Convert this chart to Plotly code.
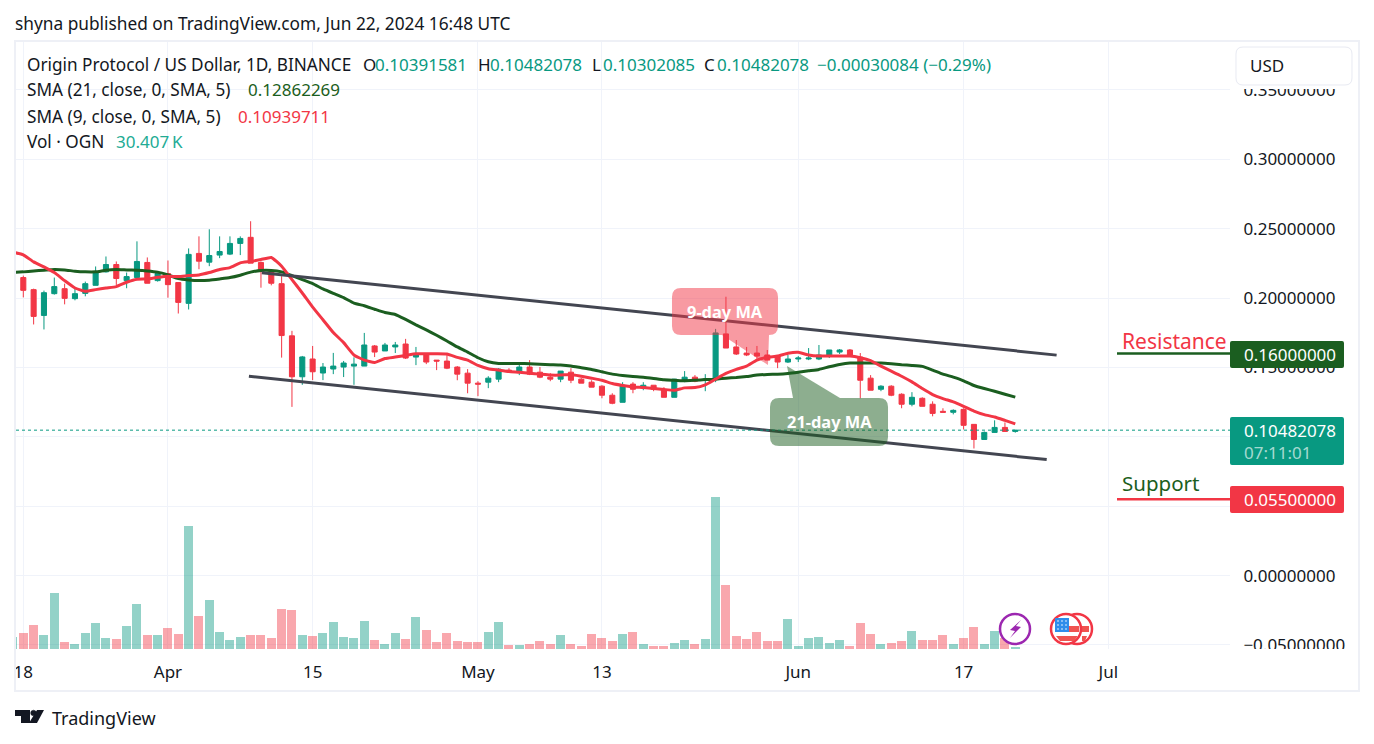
import pandas as pd
import plotly.graph_objects as go

# ---------- data ----------
dates = pd.date_range("2024-03-17", "2024-06-22", freq="D")

opens = [.2083,.2148,.2061,.1875,.2032,.2068,.1996,.2034,.2092,.2189,.2242,.2126,.2148,.2257,.2126,
         .2177,.2112,.1962,.2322,.2259,.2310,.2317,.2394,.2438,.2257,.2191,.2104,.1728,.1433,.1561,.1460,.1489,.1503,.1510,.1510,.1655,.1619,.1648,.1669,.1575,.1597,.1553,.1546,.1503,.1459,
         .1387,.1394,.1416,.1481,.1466,.1503,.1466,.1430,.1416,.1466,.1416,.1394,.1365,.1300,.1249,.1380,.1358,.1372,.1343,.1285,.1401,.1430,.1408,.1416,.1742,.1648,.1604,.1604,.1590,.1582,.1539,
         .1561,.1561,.1561,.1582,.1611,.1626,.1575,.1423,.1343,.1365,.1307,.1235,.1278,.1235,.1184,.1177,.1198,.1090,.0981,.1032,.1068,.10391581]
highs = [.2141,.2162,.2068,.2054,.2148,.2104,.2073,.2119,.2228,.2300,.2264,.2184,.2409,.2293,.2191,
         .2271,.2112,.2358,.2445,.2496,.2445,.2445,.2445,.2554,.2264,.2206,.2158,.1764,.1583,.1655,.1532,.1605,.1547,.1573,.1749,.1662,.1677,.1684,.1706,.1648,.1597,.1553,.1590,.1510,.1488,
         .1401,.1437,.1495,.1495,.1539,.1553,.1503,.1459,.1474,.1495,.1423,.1408,.1372,.1314,.1394,.1394,.1394,.1372,.1358,.1416,.1474,.1445,.1452,.1778,.2010,.1698,.1648,.1655,.1626,.1590,.1590,
         .1582,.1640,.1662,.1626,.1633,.1633,.1604,.1445,.1372,.1372,.1314,.1322,.1285,.1256,.1206,.1198,.1206,.1090,.1039,.1119,.1104,.10482078]
lows = [.2083,.2005,.1810,.1774,.2025,.1955,.1984,.2013,.2092,.2184,.2095,.2071,.2133,.2107,.2119,
        .2003,.1889,.1918,.2208,.2230,.2288,.2310,.2310,.2252,.2075,.2092,.1571,.1216,.1375,.1409,.1409,.1452,.1431,.1375,.1510,.1575,.1619,.1604,.1561,.1517,.1524,.1481,.1488,.1408,.1314,
        .1293,.1351,.1394,.1470,.1445,.1445,.1423,.1401,.1394,.1387,.1387,.1358,.1278,.1235,.1249,.1314,.1336,.1329,.1285,.1285,.1394,.1394,.1329,.1394,.1640,.1590,.1582,.1553,.1553,.1495,.1532,
        .1539,.1553,.1553,.1568,.1597,.1582,.1278,.1336,.1329,.1293,.1206,.1220,.1220,.1148,.1177,.1162,.1053,.0916,.0981,.1032,.1039,.10302085]
closes = [.2141,.2056,.1868,.2039,.2083,.1998,.2032,.2104,.2182,.2242,.2141,.2155,.2264,.2107,.2177,
          .2097,.1969,.2315,.2266,.2307,.2336,.2394,.2430,.2252,.2191,.2107,.1730,.1433,.1576,.1469,.1503,.1510,.1532,.1524,.1662,.1611,.1662,.1662,.1568,.1597,.1539,.1546,.1495,.1452,.1387,
          .1380,.1423,.1488,.1475,.1503,.1452,.1430,.1416,.1474,.1408,.1387,.1358,.1300,.1242,.1372,.1343,.1372,.1343,.1285,.1416,.1430,.1401,.1416,.1749,.1640,.1597,.1590,.1582,.1553,.1539,.1561,
          .1568,.1568,.1590,.1626,.1626,.1582,.1408,.1336,.1365,.1300,.1235,.1285,.1220,.1169,.1177,.1191,.1083,.0981,.1032,.1068,.1039,.10482078]
volumes_k = [158,211,317,185,739,92,66,211,343,145,132,304,594,185,185,
             277,198,1624,436,647,224,119,158,185,185,145,528,515,185,172,211,356,158,145,370,119,66,211,132,422,251,92,211,106,92,
             92,224,356,53,53,66,106,66,185,66,40,198,145,106,198,224,66,40,40,79,119,66,132,2006,845,172,132,224,106,106,396,
             40,145,158,79,119,40,343,198,66,79,106,238,119,119,185,66,145,290,66,238,145,30.4]
sma9 = [.2331,.2312,.2261,.2225,.2184,.2126,.2073,.2049,.2061,.2073,.2083,.2114,.2136,.2138,.2150,
        .2158,.2155,.2162,.2167,.2184,.2206,.2220,.2254,.2264,.2278,.2293,.2230,.2133,.2037,.1935,.1844,.1752,.1679,.1590,.1553,.1536,.1565,.1575,.1587,.1599,.1599,.1599,.1597,.1573,.1553,
        .1515,.1491,.1481,.1471,.1466,.1459,.1452,.1445,.1445,.1450,.1437,.1423,.1408,.1384,.1370,.1360,.1355,.1348,.1341,.1336,.1353,.1355,.1375,.1416,.1457,.1486,.1510,.1553,.1573,.1582,.1602,
        .1609,.1590,.1582,.1582,.1582,.1582,.1570,.1549,.1510,.1474,.1437,.1396,.1348,.1305,.1276,.1252,.1220,.1186,.1160,.1143,.1119,.10939711]
sma21 = [.2184,.2189,.2196,.2201,.2206,.2203,.2194,.2189,.2189,.2201,.2206,.2203,.2201,.2196,.2187,
         .2167,.2141,.2131,.2126,.2129,.2138,.2148,.2165,.2187,.2199,.2199,.2189,.2162,.2133,.2104,.2066,.2034,.2003,.1964,.1945,.1920,.1896,.1882,.1846,.1807,.1771,.1732,.1691,.1648,.1611,
         .1570,.1541,.1529,.1529,.1529,.1527,.1524,.1520,.1517,.1510,.1498,.1486,.1469,.1452,.1442,.1435,.1430,.1421,.1411,.1408,.1404,.1408,.1413,.1416,.1423,.1428,.1435,.1445,.1450,.1452,.1457,
         .1466,.1476,.1486,.1505,.1522,.1532,.1532,.1532,.1532,.1527,.1520,.1515,.1508,.1481,.1452,.1430,.1404,.1370,.1348,.1329,.1307,.12862269]

upper_dates = ["2024-04-10 02:00", "2024-06-26 00:00"]
upper_vals = [.2183, .1589]
lower_dates = ["2024-04-08 20:00", "2024-06-25 01:00"]
lower_vals = [.1437, .0836]

resistance = 0.16
support = 0.055
last_price = 0.10482078

price_ticks = [-0.05, 0, 0.05, 0.10, 0.15, 0.20, 0.25, 0.30, 0.35]
price_labels = ["\u22120.05000000", "0.00000000", "", "", "0.15000000", "0.20000000", "0.25000000", "0.30000000", "0.35000000"]
date_ticks = ["2024-03-18", "2024-04-01", "2024-04-15", "2024-05-01", "2024-05-13", "2024-06-01", "2024-06-17", "2024-07-01"]
date_labels = ["18", "Apr", "15", "May", "13", "Jun", "17", "Jul"]

# ---------- look ----------
TEAL, RED, GREEN, INK, GRID, FRAME = "#089981", "#F23645", "#1B5E20", "#131722", "#F0F3FA", "#EEF0F6"
FONT = "Noto Sans"
FS = 17
L, R, T, B = 16, 1230, 42, 649

def X(p):
    return (p - L) / (R - L)

def Y(p):
    return (B - p) / (B - T)

vol_colors = ["rgba(8,153,129,0.44)" if c >= o else "rgba(242,54,69,0.44)" for o, c in zip(opens, closes)]

fig = go.Figure()
fig.add_bar(x=dates, y=volumes_k, marker=dict(color=vol_colors, line_width=0), width=75000000, yaxis="y", hoverinfo="skip")
fig.add_candlestick(x=dates, open=opens, high=highs, low=lows, close=closes, yaxis="y2", whiskerwidth=0,
                    increasing=dict(line=dict(color=TEAL, width=1), fillcolor=TEAL),
                    decreasing=dict(line=dict(color=RED, width=1), fillcolor=RED), hoverinfo="skip")
fig.add_scatter(x=dates, y=sma21, yaxis="y2", mode="lines", line=dict(color=GREEN, width=3, shape="spline", smoothing=0.4), hoverinfo="skip")
fig.add_scatter(x=dates, y=sma9, yaxis="y2", mode="lines", line=dict(color=RED, width=3, shape="spline", smoothing=0.4), hoverinfo="skip")
fig.add_scatter(x=upper_dates, y=upper_vals, yaxis="y2", mode="lines", line=dict(color="#434651", width=3), hoverinfo="skip")
fig.add_scatter(x=lower_dates, y=lower_vals, yaxis="y2", mode="lines", line=dict(color="#434651", width=3), hoverinfo="skip")

shapes, notes = [], []

def poly(points, fill, line=None, width=0, close=True):
    d = "M " + " L ".join(f"{X(a):.5f} {Y(b):.5f}" for a, b in points) + (" Z" if close else "")
    shapes.append(dict(type="path", path=d, xref="paper", yref="paper", fillcolor=fill, layer="above",
                       line=dict(color=line or "rgba(0,0,0,0)", width=width)))

def round_rect(x0, y0, x1, y1, r, fill, line=None, width=0, tail=None):
    def P(a, b):
        return f"{X(a):.5f} {Y(b):.5f}"
    d = f"M {P(x0 + r, y0)} L {P(x1 - r, y0)} Q {P(x1, y0)} {P(x1, y0 + r)} L {P(x1, y1 - r)} Q {P(x1, y1)} {P(x1 - r, y1)} "
    if tail:
        d += " ".join("L " + P(a, b) for a, b in tail) + " "
    d += f"L {P(x0 + r, y1)} Q {P(x0, y1)} {P(x0, y1 - r)} L {P(x0, y0 + r)} Q {P(x0, y0)} {P(x0 + r, y0)} Z"
    shapes.append(dict(type="path", path=d, xref="paper", yref="paper", fillcolor=fill, layer="above",
                       line=dict(color=line or "rgba(0,0,0,0)", width=width)))

def circle(cx, cy, r, fill, line, width):
    shapes.append(dict(type="circle", xref="paper", yref="paper", x0=X(cx - r), x1=X(cx + r), y0=Y(cy + r), y1=Y(cy - r),
                       fillcolor=fill, line=dict(color=line, width=width), layer="above"))

def text(px, py, s, color=INK, size=FS, anchor="left", bold=False):
    notes.append(dict(x=X(px), y=Y(py), xref="paper", yref="paper", text=f"<b>{s}</b>" if bold else s, showarrow=False,
                      xanchor=anchor, yanchor="middle", align="left", borderpad=0, borderwidth=0,
                      font=dict(family=FONT, size=size, color=color)))

# the price axis is cut where the pane ends and under the USD button
poly([(1231, 649), (1358, 649), (1358, 690), (1231, 690)], "#FFFFFF")
poly([(1231, 42), (1358, 42), (1358, 89), (1231, 89)], "#FFFFFF")
# frame
shapes.append(dict(type="rect", xref="paper", yref="paper", x0=X(15), x1=X(1359), y0=Y(691), y1=Y(41),
                   line=dict(color=FRAME, width=2), fillcolor="rgba(0,0,0,0)", layer="above"))

# USD button
round_rect(1236, 47, 1352, 85, 7, "#FFFFFF", "#E8EAF2", 1)
text(1250, 65.5, "USD")

# price line
shapes.append(dict(type="line", xref="paper", yref="y2", x0=0, x1=1, y0=last_price, y1=last_price,
                   line=dict(color=TEAL, width=1, dash="dot"), layer="above"))
# support / resistance
shapes.append(dict(type="line", xref="paper", yref="y2", x0=X(1117), x1=X(1230), y0=resistance, y1=resistance,
                   line=dict(color=GREEN, width=2.5), layer="above"))
shapes.append(dict(type="line", xref="paper", yref="y2", x0=X(1117), x1=X(1230), y0=support, y1=support,
                   line=dict(color=RED, width=2.5), layer="above"))
round_rect(1230, 341, 1344, 368, 2, GREEN)
text(1244, 354, "0.16000000", "#FFFFFF")
round_rect(1230, 417, 1344, 465, 2, TEAL)
text(1244, 431, f"{last_price:.8f}", "#FFFFFF")
text(1244, 452, "07:11:01", "rgba(255,255,255,0.65)")
round_rect(1230, 486, 1344, 513, 2, RED)
text(1244, 499, "0.05500000", "#FFFFFF")
text(1122, 341, "Resistance", RED, 21)
text(1122, 483, "Support", GREEN, 20.5)

# callouts
round_rect(672, 288, 778, 335, 9, "rgba(242,54,69,0.5)", tail=[(768, 365), (722, 335)])
text(725, 311, "9-day MA", "#FFFFFF", 16.4, "center", True)
round_rect(770, 398, 888, 446, 9, "rgba(27,94,32,0.5)")
poly([(793, 398), (787, 366), (840, 398)], "rgba(27,94,32,0.5)")
text(829, 421, "21-day MA", "#FFFFFF", 16.4, "center", True)

# event icons
circle(1077, 629, 15, "#FFFFFF", RED, 2.5)
poly([(1082, 626), (1089, 626), (1089, 632), (1082, 632)], "#F05350")
poly([(1082, 636), (1087, 636), (1085, 641), (1082, 641)], "#F05350")
circle(1066, 629, 15, "#FFFFFF", RED, 2.5)
poly([(1069, 626), (1079, 626), (1079, 632), (1069, 632)], "#F05350")
poly([(1056, 636), (1078, 636), (1074, 641), (1060, 641)], "#F05350")
poly([(1055, 618), (1069, 618), (1069, 632), (1055, 632)], "#2F8DEB")
for dx in (1058, 1062, 1066):
    for dy in (621, 625, 629):
        circle(dx, dy, 0.8, "#FFFFFF", "#FFFFFF", 0)
circle(1015, 629, 15, "#FFFFFF", "#9C27B0", 2.5)
poly([(1021, 620), (1010, 630), (1015, 631), (1010, 638), (1021, 627), (1016, 626)], "#9C27B0")

# header texts
text(15, 23, "shyna published on TradingView.com, Jun 22, 2024 16:48 UTC", INK, 17.3)
text(27, 64, "Origin Protocol / US Dollar, 1D, BINANCE", INK, 17.2)
for px, s, c in [(363, "O", INK), (375, "0.10391581", TEAL), (478, "H", INK), (490, "0.10482078", TEAL),
                 (592, "L", INK), (603, "0.10302085", TEAL), (704, "C", INK), (717, "0.10482078", TEAL),
                 (817, "\u22120.00030084 (\u22120.29%)", TEAL)]:
    text(px, 64, s, c)
text(27, 89, "SMA (21, close, 0, SMA, 5)", INK, 17.2)
text(248, 89, "0.12862269", GREEN)
text(27, 116, "SMA (9, close, 0, SMA, 5)", INK, 17.2)
text(238, 116, "0.10939711", RED)
text(27, 142, "Vol \u00b7 OGN", INK, 17.2)
text(116, 142, "30.407\u2009K", "#22AB94")

# footer logo
poly([(15, 710), (30, 710), (30, 723), (21, 723), (21, 716), (15, 716)], INK)
circle(33.5, 713, 2.8, INK, INK, 0.5)
poly([(37, 710), (44, 710), (37, 723), (29, 723)], INK)
text(52, 718, "TradingView", INK, 18)

fig.update_layout(
    width=1374, height=744, autosize=False,
    margin=dict(l=L, r=1374 - R, t=T, b=744 - B, pad=0),
    paper_bgcolor="#FFFFFF", plot_bgcolor="#FFFFFF", showlegend=False,
    bargap=0, shapes=shapes, annotations=notes,
    font=dict(family=FONT, size=FS, color=INK),
    xaxis=dict(type="date", range=["2024-03-17 07:03", "2024-07-12 18:43"], rangeslider=dict(visible=False),
               tickvals=date_ticks, ticktext=date_labels, ticks="outside", ticklen=8, tickcolor="rgba(0,0,0,0)",
               showgrid=True, gridcolor=GRID, gridwidth=1, zeroline=False, showline=False,
               tickfont=dict(family=FONT, size=FS, color=INK)),
    yaxis=dict(range=[0, 8012], visible=False, fixedrange=True),
    yaxis2=dict(overlaying="y", side="right", anchor="x", range=[-0.0529, 0.38457], tickvals=price_ticks,
                ticktext=price_labels, ticks="outside", ticklen=9, tickcolor="rgba(0,0,0,0)",
                showgrid=True, gridcolor=GRID, gridwidth=1, zeroline=False, showline=False,
                tickfont=dict(family=FONT, size=FS, color=INK)),
)

fig.write_html("out.html", config={"displayModeBar": False},
               post_script="document.body.style.margin='0';document.body.style.overflow='hidden';")
